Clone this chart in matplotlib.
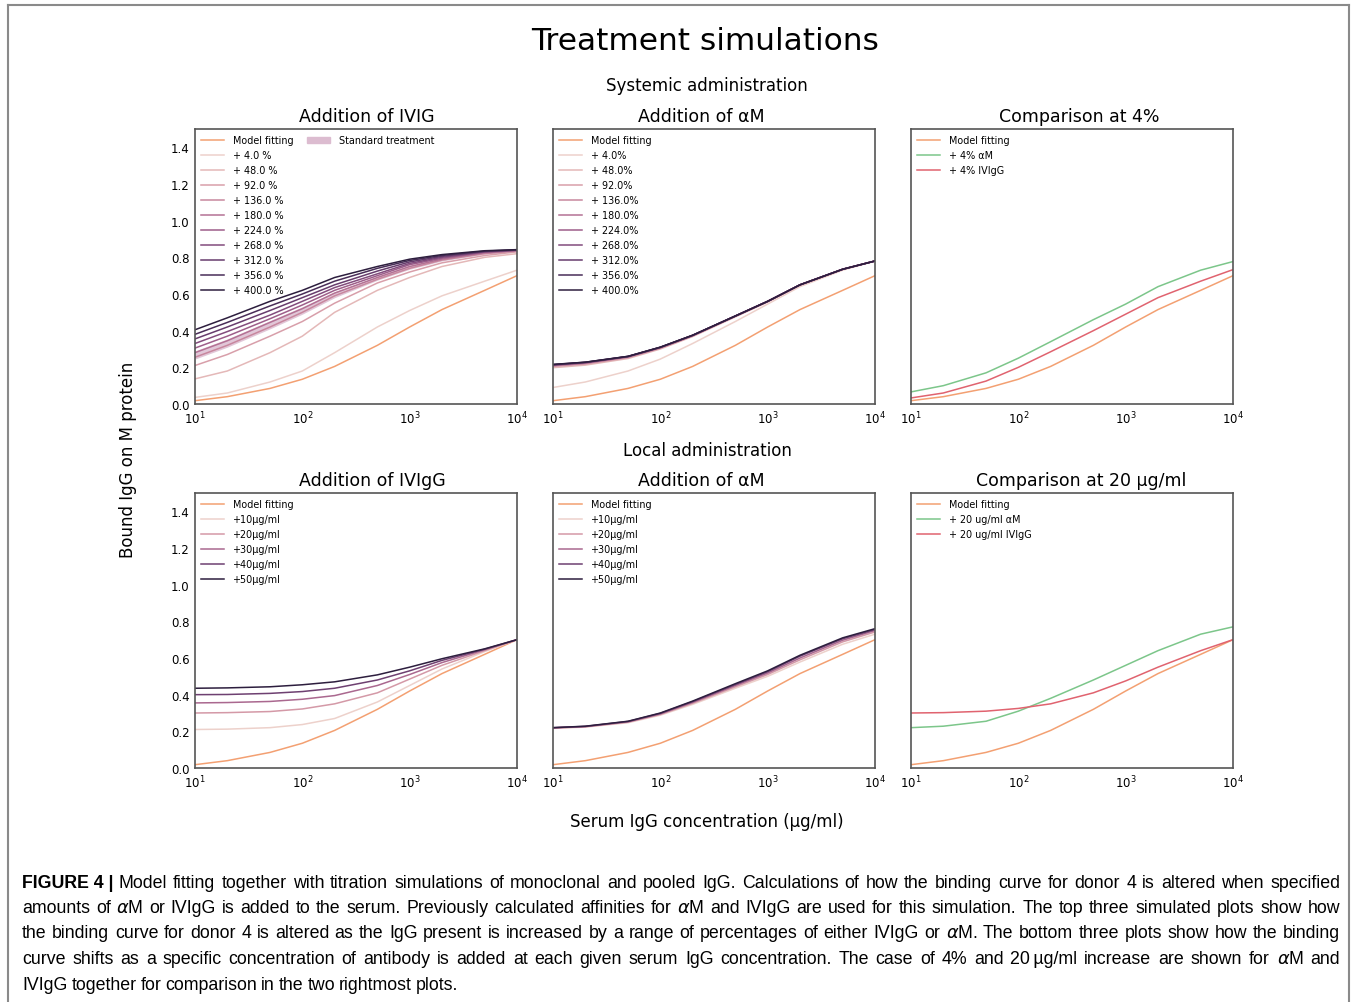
import matplotlib
matplotlib.use('Agg')
import matplotlib.pyplot as plt
import seaborn as sns
from matplotlib.patches import Patch
from matplotlib.lines import Line2D

# serum IgG concentration (ug/ml) where curves were read
conc = [10, 20, 50, 100, 200, 500, 1000, 2000, 5000, 10000]

model_fit = [0.018, 0.04, 0.085, 0.135, 0.205, 0.32, 0.42, 0.515, 0.62, 0.70]

# systemic administration, IVIG added as % of serum IgG
ivig_pct = ['4.0', '48.0', '92.0', '136.0', '180.0', '224.0', '268.0', '312.0', '356.0', '400.0']
ivig_sys = [
    [0.036, 0.06, 0.12, 0.18, 0.28, 0.42, 0.51, 0.59, 0.67, 0.73],
    [0.137, 0.18, 0.28, 0.37, 0.50, 0.62, 0.69, 0.75, 0.80, 0.82],
    [0.21, 0.27, 0.37, 0.45, 0.55, 0.66, 0.72, 0.77, 0.81, 0.83],
    [0.255, 0.32, 0.42, 0.50, 0.59, 0.68, 0.74, 0.785, 0.82, 0.835],
    [0.28, 0.345, 0.445, 0.52, 0.605, 0.69, 0.75, 0.79, 0.825, 0.837],
    [0.305, 0.37, 0.465, 0.54, 0.62, 0.70, 0.76, 0.795, 0.828, 0.838],
    [0.33, 0.395, 0.485, 0.56, 0.635, 0.71, 0.767, 0.80, 0.83, 0.839],
    [0.355, 0.42, 0.51, 0.58, 0.65, 0.725, 0.775, 0.805, 0.832, 0.84],
    [0.38, 0.445, 0.535, 0.60, 0.67, 0.74, 0.783, 0.81, 0.834, 0.841],
    [0.405, 0.47, 0.56, 0.62, 0.69, 0.75, 0.79, 0.815, 0.836, 0.842],
]
std_low = [0.245, 0.31, 0.41, 0.49, 0.58, 0.675, 0.735, 0.78, 0.818, 0.834]
std_high = [0.29, 0.355, 0.455, 0.53, 0.612, 0.695, 0.755, 0.792, 0.826, 0.837]

# systemic administration, alpha-M added
am_sys = [
    [0.09, 0.12, 0.18, 0.245, 0.33, 0.45, 0.545, 0.64, 0.73, 0.78],
    [0.198, 0.212, 0.248, 0.30, 0.368, 0.475, 0.556, 0.648, 0.734, 0.78],
    [0.205, 0.218, 0.253, 0.304, 0.371, 0.478, 0.558, 0.649, 0.735, 0.78],
    [0.208, 0.221, 0.255, 0.306, 0.372, 0.479, 0.559, 0.65, 0.735, 0.78],
    [0.21, 0.223, 0.257, 0.307, 0.373, 0.48, 0.56, 0.65, 0.735, 0.78],
    [0.212, 0.225, 0.258, 0.308, 0.374, 0.48, 0.56, 0.65, 0.735, 0.78],
    [0.213, 0.226, 0.259, 0.309, 0.374, 0.48, 0.56, 0.65, 0.735, 0.78],
    [0.214, 0.227, 0.259, 0.309, 0.375, 0.48, 0.56, 0.65, 0.735, 0.78],
    [0.215, 0.228, 0.26, 0.31, 0.375, 0.48, 0.56, 0.65, 0.735, 0.78],
    [0.216, 0.228, 0.26, 0.31, 0.375, 0.48, 0.56, 0.65, 0.735, 0.78],
]

cmp4_am = [0.066, 0.10, 0.17, 0.25, 0.34, 0.46, 0.545, 0.64, 0.73, 0.777]
cmp4_ivig = [0.033, 0.06, 0.125, 0.20, 0.285, 0.40, 0.49, 0.58, 0.67, 0.733]

# local administration, ug/ml added
dose_labels = ['+10\u00b5g/ml', '+20\u00b5g/ml', '+30\u00b5g/ml', '+40\u00b5g/ml', '+50\u00b5g/ml']
ivig_loc = [
    [0.21, 0.212, 0.22, 0.237, 0.27, 0.36, 0.45, 0.54, 0.635, 0.70],
    [0.30, 0.302, 0.308, 0.322, 0.35, 0.41, 0.485, 0.56, 0.64, 0.70],
    [0.355, 0.357, 0.363, 0.375, 0.395, 0.45, 0.51, 0.575, 0.645, 0.70],
    [0.40, 0.401, 0.407, 0.417, 0.435, 0.48, 0.53, 0.587, 0.648, 0.70],
    [0.435, 0.437, 0.443, 0.454, 0.47, 0.508, 0.55, 0.596, 0.65, 0.70],
]
am_loc = [
    [0.216, 0.223, 0.247, 0.288, 0.347, 0.435, 0.50, 0.578, 0.675, 0.73],
    [0.218, 0.225, 0.25, 0.292, 0.353, 0.443, 0.51, 0.59, 0.688, 0.742],
    [0.219, 0.226, 0.252, 0.295, 0.358, 0.45, 0.518, 0.60, 0.697, 0.75],
    [0.22, 0.227, 0.254, 0.298, 0.362, 0.455, 0.525, 0.61, 0.705, 0.755],
    [0.22, 0.228, 0.255, 0.30, 0.365, 0.46, 0.53, 0.615, 0.71, 0.76],
]

cmp20_am = [0.22, 0.228, 0.255, 0.31, 0.38, 0.48, 0.56, 0.64, 0.73, 0.77]
cmp20_ivig = [0.30, 0.302, 0.31, 0.325, 0.35, 0.41, 0.475, 0.55, 0.64, 0.70]

ORANGE = '#f3a072'
GREEN = '#7cc68a'
RED = '#e0636f'
LEG = dict(loc='upper left', bbox_to_anchor=(0.0, 1.0), frameon=False, fontsize=6.9,
           handlelength=2.4, handletextpad=0.9, labelspacing=0.52, borderaxespad=0.25)

W, H = 1357, 1003
fig = plt.figure(figsize=(W / 100, H / 100), dpi=100)


def make_ax(px, py, show_y):
    ax = fig.add_axes([px / W, 1 - (py + 275) / H, 322 / W, 275 / H])
    ax.set_xscale('log')
    ax.set_xlim(10, 10000)
    ax.set_ylim(0, 1.5)
    ax.set_xticks([10, 100, 1000, 10000])
    ax.minorticks_off()
    ax.tick_params(axis='x', labelsize=8.5, length=0, pad=4)
    if show_y:
        ax.set_yticks([0.0, 0.2, 0.4, 0.6, 0.8, 1.0, 1.2, 1.4])
        ax.tick_params(axis='y', labelsize=8.5, length=0, pad=4)
    else:
        ax.set_yticks([])
    for s in ax.spines.values():
        s.set_color('#555555')
        s.set_linewidth(1.2)
    return ax


def title_at(ax, text, px, left):
    ax.set_title(text, fontsize=12.5, pad=6, x=(px - left) / 322)


top_y, bot_y = 130, 494
cols = [195, 553, 911]

# --- systemic row ---
ax = make_ax(cols[0], top_y, True)
pal = sns.cubehelix_palette(10)
ax.plot(conc, model_fit, color=ORANGE, lw=1.1, label='Model fitting')
for i, ys in enumerate(ivig_sys):
    ax.plot(conc, ys, color=pal[i], lw=1.1, label='+ %s %%' % ivig_pct[i])
ax.fill_between(conc, std_low, std_high, color='#c99ab8', alpha=0.55, lw=0)
std_leg = ax.legend(handles=[Patch(color='#dcbcd0', label='Standard treatment')],
                    loc='upper left', bbox_to_anchor=(0.33, 1.0), frameon=False,
                    fontsize=6.9, handlelength=2.4, handletextpad=0.9, borderaxespad=0.25)
ax.legend(**LEG)
ax.add_artist(std_leg)
title_at(ax, 'Addition of IVIG', 367, cols[0])

ax = make_ax(cols[1], top_y, False)
ax.plot(conc, model_fit, color=ORANGE, lw=1.1, label='Model fitting')
for i, ys in enumerate(am_sys):
    ax.plot(conc, ys, color=pal[i], lw=1.1, label='+ %s%%' % ivig_pct[i])
ax.legend(**LEG)
title_at(ax, 'Addition of \u03b1M', 701, cols[1])

ax = make_ax(cols[2], top_y, False)
ax.plot(conc, model_fit, color=ORANGE, lw=1.1, label='Model fitting')
ax.plot(conc, cmp4_am, color=GREEN, lw=1.1, label='+ 4% \u03b1M')
ax.plot(conc, cmp4_ivig, color=RED, lw=1.1, label='+ 4% IVIgG')
ax.legend(**LEG)
title_at(ax, 'Comparison at 4%', 1079, cols[2])

# --- local row ---
pal5 = sns.cubehelix_palette(5)
ax = make_ax(cols[0], bot_y, True)
ax.plot(conc, model_fit, color=ORANGE, lw=1.1, label='Model fitting')
for i, ys in enumerate(ivig_loc):
    ax.plot(conc, ys, color=pal5[i], lw=1.1, label=dose_labels[i])
ax.legend(**LEG)
title_at(ax, 'Addition of IVIgG', 372, cols[0])

ax = make_ax(cols[1], bot_y, False)
ax.plot(conc, model_fit, color=ORANGE, lw=1.1, label='Model fitting')
for i, ys in enumerate(am_loc):
    ax.plot(conc, ys, color=pal5[i], lw=1.1, label=dose_labels[i])
ax.legend(**LEG)
title_at(ax, 'Addition of \u03b1M', 701, cols[1])

ax = make_ax(cols[2], bot_y, False)
ax.plot(conc, model_fit, color=ORANGE, lw=1.1, label='Model fitting')
ax.plot(conc, cmp20_am, color=GREEN, lw=1.1, label='+ 20 ug/ml \u03b1M')
ax.plot(conc, cmp20_ivig, color=RED, lw=1.1, label='+ 20 ug/ml IVIgG')
ax.legend(**LEG)
title_at(ax, 'Comparison at 20 \u00b5g/ml', 1081, cols[2])

# headings and axis labels
fig.text(705 / W, 1 - 42 / H, 'Treatment simulations', fontsize=22.5, ha='center', va='center')
fig.text(707 / W, 1 - 86 / H, 'Systemic administration', fontsize=12, ha='center', va='center')
fig.text(707 / W, 1 - 451 / H, 'Local administration', fontsize=12, ha='center', va='center')
fig.text(128 / W, 1 - 460 / H, 'Bound IgG on M protein', fontsize=12, rotation=90,
         ha='center', va='center')
fig.text(707 / W, 1 - 822 / H, 'Serum IgG concentration (\u00b5g/ml)', fontsize=12,
         ha='center', va='center')

# frame round the figure panel
frame_kw = dict(color='#8a8a8a', lw=1.5, transform=fig.transFigure)
fig.add_artist(Line2D([8 / W, 8 / W], [0, 1 - 6 / H], **frame_kw))
fig.add_artist(Line2D([8 / W, 1349 / W], [1 - 6 / H, 1 - 6 / H], **frame_kw))
fig.add_artist(Line2D([1349 / W, 1349 / W], [0, 1 - 6 / H], **frame_kw))

# caption, justified word by word
caption = [
    'Model fitting together with titration simulations of monoclonal and pooled IgG. Calculations of how the binding curve for donor 4 is altered when specified',
    'amounts of $\\alpha$M or IVIgG is added to the serum. Previously calculated affinities for $\\alpha$M and IVIgG are used for this simulation. The top three simulated plots show how',
    'the binding curve for donor 4 is altered as the IgG present is increased by a range of percentages of either IVIgG or $\\alpha$M. The bottom three plots show how the binding',
    'curve shifts as a specific concentration of antibody is added at each given serum IgG concentration. The case of 4% and 20\u2009\u00b5g/ml increase are shown for $\\alpha$M and',
    'IVIgG together for comparison in the two rightmost plots.',
]
cap_font = dict(family=['Liberation Sans Narrow', 'Liberation Sans', 'DejaVu Sans'], fontsize=12.8)
cap_y = [884, 909, 934, 960, 985]
x_left, x_right = 22, 1340
renderer = fig.canvas.get_renderer()

for li, line in enumerate(caption):
    y = 1 - cap_y[li] / H
    words = line.split(' ')
    start = x_left
    if li == 0:
        t = fig.text(start / W, y, 'FIGURE 4 |', fontweight='bold', va='center', **cap_font)
        start += t.get_window_extent(renderer).width + 5
    arts = []
    widths = []
    for w in words:
        t = fig.text(0, y, w, va='center', **cap_font)
        arts.append(t)
        widths.append(t.get_window_extent(renderer).width)
    if li < len(caption) - 1:
        gap = (x_right - start - sum(widths)) / (len(words) - 1)
    else:
        gap = 4.0
    xx = start
    for t, wd in zip(arts, widths):
        t.set_x(xx / W)
        xx += wd + gap

fig.savefig('out.png', dpi=100)
